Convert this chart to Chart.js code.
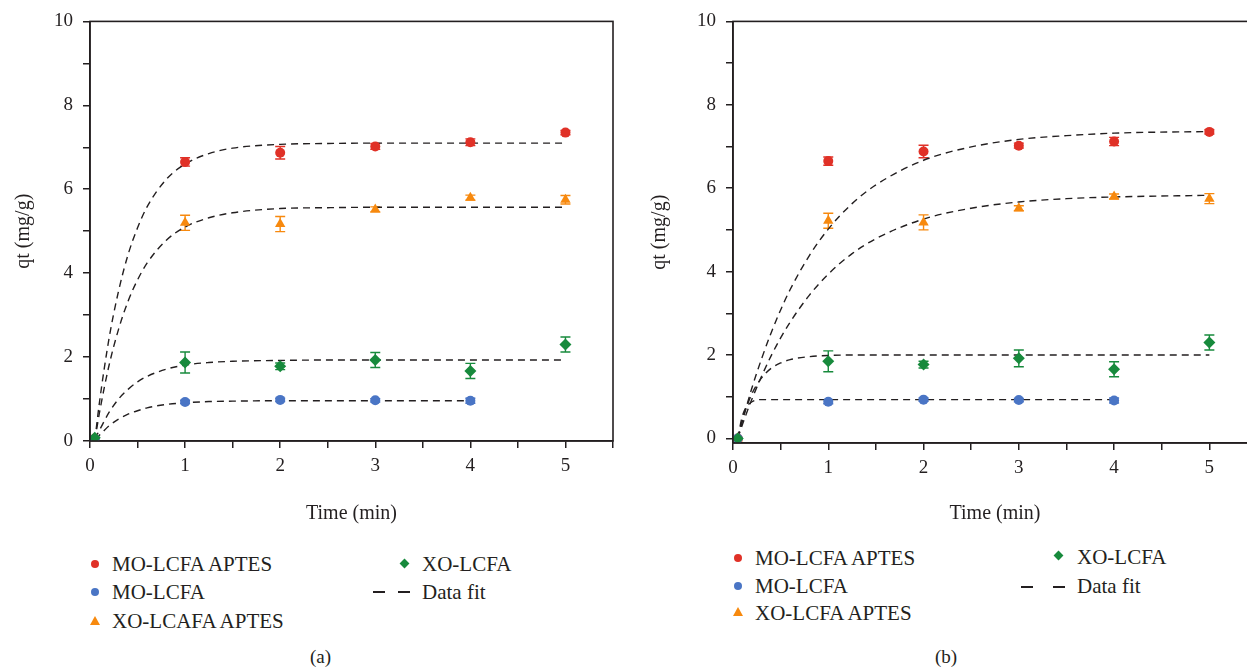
<!DOCTYPE html>
<html>
<head>
<meta charset="utf-8">
<script src="https://cdn.jsdelivr.net/npm/chart.js@4"></script>
<style>
  html, body { margin: 0; padding: 0; background: #fff; overflow: hidden; }
  body { width: 1247px; height: 667px; position: relative; font-family: 'Liberation Serif', 'DejaVu Serif', serif; color: #231f20; }
  .box { position: absolute; top: 0; height: 530px; }
  .lg { position: absolute; font-size: 21px; line-height: 24px; white-space: nowrap; }
  .mk { position: absolute; }
  .dot { width: 8px; height: 8px; border-radius: 50%; }
  .tri { width: 0; height: 0; border-left: 5px solid transparent; border-right: 5px solid transparent; border-bottom: 9px solid #f7890e; }
  .dia { width: 7px; height: 7px; background: #178a3c; transform: rotate(45deg); }
  .dash { height: 2px; width: 12px; background: #231f20; }
  .cap { position: absolute; font-size: 19px; line-height: 22px; top: 646px; }
</style>
</head>
<body>
<div class="box" style="left:0;width:620px"><canvas id="chartA"></canvas></div>
<div class="box" style="left:620px;width:650px"><canvas id="chartB"></canvas></div>

<!-- legend (a) -->
<div class="mk dot" style="left:91px;top:560px;background:#e03127"></div>
<div class="lg" style="left:112px;top:552px">MO-LCFA APTES</div>
<div class="mk dot" style="left:91px;top:588px;background:#4a75c5"></div>
<div class="lg" style="left:112px;top:580px">MO-LCFA</div>
<div class="mk tri" style="left:90px;top:616px"></div>
<div class="lg" style="left:112px;top:609px">XO-LCAFA APTES</div>
<div class="mk dia" style="left:401px;top:560px"></div>
<div class="lg" style="left:422px;top:552px">XO-LCFA</div>
<div class="mk dash" style="left:373px;top:591px"></div>
<div class="mk dash" style="left:398px;top:591px"></div>
<div class="lg" style="left:422px;top:580px">Data fit</div>
<div class="cap" style="left:310px">(a)</div>

<!-- legend (b) -->
<div class="mk dot" style="left:734px;top:554px;background:#e03127"></div>
<div class="lg" style="left:755px;top:546px">MO-LCFA APTES</div>
<div class="mk dot" style="left:734px;top:582px;background:#4a75c5"></div>
<div class="lg" style="left:755px;top:574px">MO-LCFA</div>
<div class="mk tri" style="left:733px;top:607px"></div>
<div class="lg" style="left:755px;top:601px">XO-LCFA APTES</div>
<div class="mk dia" style="left:1055px;top:552px"></div>
<div class="lg" style="left:1077px;top:545px">XO-LCFA</div>
<div class="mk dash" style="left:1021px;top:586px"></div>
<div class="mk dash" style="left:1053px;top:586px"></div>
<div class="lg" style="left:1077px;top:574px">Data fit</div>
<div class="cap" style="left:935px">(b)</div>

<script>
// time points (min)
const timeAll = [0.05, 1, 2, 3, 4, 5];
const timeMo = [0.05, 1, 2, 3, 4];

// axis ticks (odd ones unlabelled)
const xTicks = [0, 0.5, 1, 1.5, 2, 2.5, 3, 3.5, 4, 4.5, 5, 5.5];
const yTicks = [0, 1, 2, 3, 4, 5, 6, 7, 8, 9, 10];

// panel (a) measured values and error bars
const moAptesA = [0.06, 6.65, 6.87, 7.02, 7.12, 7.35];
const moAptesErrA = [0, 0.1, 0.15, 0.07, 0.08, 0.05];
const moA = [0.05, 0.93, 0.98, 0.97, 0.96];
const moErrA = [0, 0.04, 0.04, 0.04, 0.06];
const xoAptesA = [0.05, 5.2, 5.17, 5.52, 5.8, 5.75];
const xoAptesErrA = [0, 0.18, 0.18, 0.06, 0.06, 0.1];
const xoA = [0.08, 1.87, 1.78, 1.93, 1.67, 2.3];
const xoErrA = [0, 0.25, 0.08, 0.18, 0.18, 0.18];

// panel (b) measured values and error bars
const moAptesB = [0, 6.65, 6.88, 7.02, 7.12, 7.35];
const moAptesErrB = [0, 0.1, 0.15, 0.06, 0.1, 0.05];
const moB = [0, 0.88, 0.93, 0.92, 0.91];
const moErrB = [0, 0.05, 0.04, 0.04, 0.06];
const xoAptesB = [0, 5.22, 5.18, 5.52, 5.8, 5.75];
const xoAptesErrB = [0, 0.18, 0.18, 0.06, 0.06, 0.12];
const xoB = [0, 1.85, 1.77, 1.92, 1.66, 2.3];
const xoErrB = [0, 0.25, 0.08, 0.2, 0.18, 0.18];

// fitted curves
const fitT = [0.05, 0.1, 0.2, 0.3, 0.4, 0.5, 0.6, 0.8, 1, 1.25, 1.5, 2, 2.5, 3, 3.5, 4, 5];
const fitMoAptesA = [0, 0.93, 2.44, 3.57, 4.44, 5.08, 5.58, 6.23, 6.60, 6.85, 6.98, 7.07, 7.09, 7.1, 7.1, 7.1, 7.1];
const fitXoAptesA = [0, 0.68, 1.80, 2.66, 3.33, 3.84, 4.24, 4.78, 5.10, 5.32, 5.44, 5.54, 5.56, 5.57, 5.57, 5.57, 5.57];
const fitXoA = [0.05, 0.26, 0.68, 1.0, 1.23, 1.41, 1.54, 1.71, 1.81, 1.87, 1.90, 1.92, 1.93, 1.93, 1.93, 1.93, 1.93];
const fitMoA = [0.05, 0.14, 0.36, 0.52, 0.64, 0.72, 0.79, 0.87, 0.91, 0.94, 0.95, 0.96, 0.96, 0.96, 0.96, 0.96];
const fitMoAptesB = [0, 0.43, 1.22, 1.91, 2.53, 3.08, 3.57, 4.38, 5.02, 5.63, 6.08, 6.67, 6.99, 7.17, 7.26, 7.32, 7.36];
const fitXoAptesB = [0, 0.34, 0.95, 1.49, 1.98, 2.41, 2.79, 3.43, 3.94, 4.43, 4.79, 5.26, 5.52, 5.67, 5.75, 5.79, 5.83];
const fitXoB = [0, 0.46, 1.08, 1.45, 1.68, 1.81, 1.89, 1.96, 1.99, 2.0, 2.0, 2.0, 2.0, 2.0, 2.0, 2.0, 2.0];
const fitMoB = [0, 0.55, 0.88, 0.93, 0.93, 0.93, 0.93, 0.93, 0.93, 0.93, 0.93, 0.93, 0.93, 0.93, 0.93, 0.93];

const RED = '#e03127', BLUE = '#4a75c5', ORANGE = '#f7890e', GREEN = '#178a3c';
const INK = '#231f20';
const TICKFONT = { family: "'Liberation Serif', 'DejaVu Serif', serif", size: 19 };
const TITLEFONT = { family: "'Liberation Serif', 'DejaVu Serif', serif", size: 20 };
Chart.defaults.font.family = TICKFONT.family;
Chart.defaults.color = INK;

function pts(xs, ys) {
    return ys.map(function (y, i) { return { x: xs[i], y: y }; });
}

function marks(label, xs, ys, errs, color, style, r) {
    return {
        label: label, data: pts(xs, ys), errors: errs,
        backgroundColor: color, borderColor: color, borderWidth: 0,
        pointStyle: style, pointRadius: r, showLine: false, order: 1
    };
}

function fit(ys) {
    return {
        label: 'Data fit', data: pts(fitT, ys), showLine: true,
        borderColor: INK, borderWidth: 1.4, borderDash: [7, 5],
        pointRadius: 0, cubicInterpolationMode: 'monotone', order: 2
    };
}

// error bars + frame drawn through the chart scales
const extras = {
    id: 'extras',
    beforeDatasetsDraw: function (chart) {
        const ctx = chart.ctx, ys = chart.scales.y;
        chart.data.datasets.forEach(function (ds, i) {
            if (!ds.errors) return;
            const meta = chart.getDatasetMeta(i);
            ctx.save();
            ctx.strokeStyle = ds.borderColor;
            ctx.lineWidth = 1.4;
            meta.data.forEach(function (el, j) {
                const e = ds.errors[j];
                if (!e) return;
                const v = ds.data[j].y;
                const t = ys.getPixelForValue(v + e), b = ys.getPixelForValue(v - e);
                ctx.beginPath();
                ctx.moveTo(el.x, t); ctx.lineTo(el.x, b);
                ctx.moveTo(el.x - 5, t); ctx.lineTo(el.x + 5, t);
                ctx.moveTo(el.x - 5, b); ctx.lineTo(el.x + 5, b);
                ctx.stroke();
            });
            ctx.restore();
        });
    },
    afterDraw: function (chart) {
        const a = chart.chartArea, ctx = chart.ctx;
        ctx.save();
        ctx.strokeStyle = INK;
        ctx.lineWidth = 1.6;
        ctx.strokeRect(a.left, a.top, a.right - a.left, a.bottom - a.top);
        ctx.restore();
    }
};

function useTicks(values) {
    return function (s) {
        s.ticks = values.filter(function (v) { return v >= s.min && v <= s.max; })
            .map(function (v) { return { value: v }; });
    };
}

function makeChart(id, datasets, o) {
    return new Chart(document.getElementById(id), {
        type: 'scatter',
        data: { datasets: datasets },
        plugins: [extras],
        options: {
            responsive: true,
            maintainAspectRatio: false,
            animation: false,
            layout: { padding: { top: o.top, right: o.right, bottom: 0, left: 0 } },
            plugins: { legend: { display: false }, tooltip: { enabled: false } },
            scales: {
                x: {
                    type: 'linear', min: 0, max: 5.5,
                    afterBuildTicks: useTicks(xTicks),
                    ticks: {
                        font: TICKFONT, padding: 7, maxRotation: 0, autoSkip: false,
                        callback: function (v) { return Number.isInteger(v) ? v : ''; }
                    },
                    grid: { drawOnChartArea: false, tickLength: 7, color: INK, lineWidth: 1.5 },
                    border: { color: INK, width: 1.6 },
                    title: { display: true, text: 'Time (min)', font: TITLEFONT, padding: { top: 0, bottom: 4 } },
                    afterFit: function (s) { s.height = o.xHeight; }
                },
                y: {
                    min: o.yMin, max: 10,
                    afterBuildTicks: useTicks(yTicks),
                    ticks: {
                        font: TICKFONT, padding: 10, autoSkip: false,
                        callback: function (v) { return v % 2 === 0 ? v : ''; }
                    },
                    grid: { drawOnChartArea: false, tickLength: 7, color: INK, lineWidth: 1.5 },
                    border: { color: INK, width: 1.6 },
                    title: { display: true, text: 'qt (mg/g)', font: TITLEFONT, padding: { top: o.titlePad, bottom: 0 } },
                    afterFit: function (s) { s.width = o.yWidth; }
                }
            }
        }
    });
}

makeChart('chartA', [
    marks('XO-LCFA', timeAll, xoA, xoErrA, GREEN, 'rectRot', 6),
    marks('MO-LCFA', timeMo, moA, moErrA, BLUE, 'circle', 5),
    marks('XO-LCAFA APTES', timeAll, xoAptesA, xoAptesErrA, ORANGE, 'triangle', 6),
    marks('MO-LCFA APTES', timeAll, moAptesA, moAptesErrA, RED, 'circle', 5),
    fit(fitMoAptesA), fit(fitXoAptesA), fit(fitXoA),
    Object.assign(fit(fitMoA), { data: pts(fitT.slice(0, 16), fitMoA) })
], { top: 20, right: 4, yWidth: 90, xHeight: 89, yMin: 0, titlePad: 12 });

makeChart('chartB', [
    marks('XO-LCFA', timeAll, xoB, xoErrB, GREEN, 'rectRot', 6),
    marks('MO-LCFA', timeMo, moB, moErrB, BLUE, 'circle', 5),
    marks('XO-LCFA APTES', timeAll, xoAptesB, xoAptesErrB, ORANGE, 'triangle', 6),
    marks('MO-LCFA APTES', timeAll, moAptesB, moAptesErrB, RED, 'circle', 5),
    fit(fitMoAptesB), fit(fitXoAptesB), fit(fitXoB),
    Object.assign(fit(fitMoB), { data: pts(fitT.slice(0, 16), fitMoB) })
], { top: 19, right: 13, yWidth: 113, xHeight: 87, yMin: -0.11, titlePad: 28 });
</script>
</body>
</html>
